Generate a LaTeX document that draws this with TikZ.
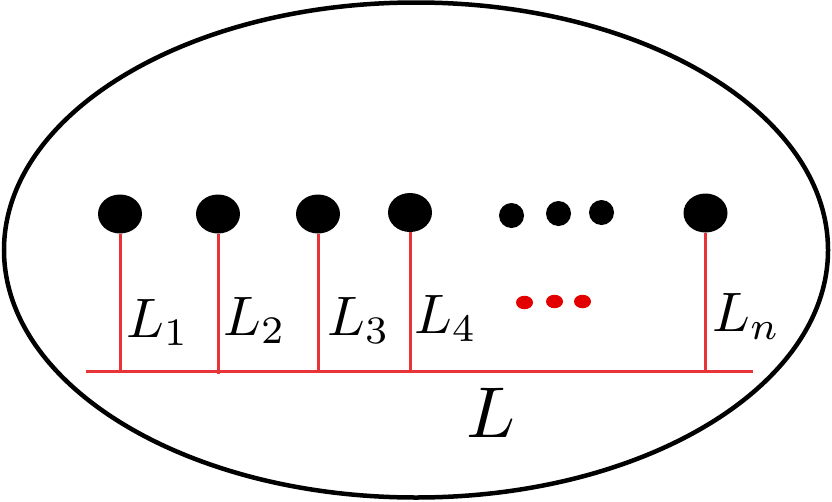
\documentclass[tikz,border=0pt]{standalone}
\usepackage{graphicx}
\usetikzlibrary{shapes.geometric}
\definecolor{linered}{RGB}{232,52,56}
\definecolor{dotred}{RGB}{226,0,0}
\tikzset{
  bigdot/.style={ellipse,fill=black,minimum width=44pt,minimum height=39pt,inner sep=0pt},
  smalldot/.style={circle,fill=black,minimum size=25pt,inner sep=0pt},
  reddot/.style={ellipse,fill=dotred,minimum width=17pt,minimum height=13.5pt,inner sep=0pt},
  redline/.style={draw=linered,line width=3pt},
  lab/.style={anchor=base west,inner sep=0pt},
}
\newcommand{\biglab}[1]{\scalebox{5.56}{$#1$}}
\begin{document}
\begin{tikzpicture}[x=1pt,y=-1pt]
\useasboundingbox (0,0) rectangle (832,501);
\node[ellipse,draw=black,line width=4.5pt,minimum width=824pt,minimum height=495pt,inner sep=0pt] (outer) at (416,250) {};
% big dots
\node[bigdot] (d1) at (120,214) {};
\node[bigdot] (d2) at (218,214) {};
\node[bigdot] (d3) at (318,214) {};
\node[bigdot] (d4) at (410,212.5) {};
\node[bigdot] (dn) at (705.5,213) {};
% small dots
\node[smalldot] (s1) at (511.5,215.5) {};
\node[smalldot] (s2) at (558.5,213.5) {};
\node[smalldot] (s3) at (601.5,212.5) {};
% red dots
\node[reddot] (r1) at (524.5,302.5) {};
\node[reddot] (r2) at (554.5,301.5) {};
\node[reddot] (r3) at (582.5,301.5) {};
% base line
\coordinate (hl) at (86,371.5);
\coordinate (hr) at (753,371.5);
\coordinate (b1) at (120,371.5);
\coordinate (b2) at (218,373.5);
\coordinate (b3) at (318,371.5);
\coordinate (b4) at (410,371.5);
\coordinate (bn) at (705.5,371.5);
\draw[redline] (hl) -- (hr);
\draw[redline] (d1.south) -- (b1);
\draw[redline] (d2.south) -- (b2);
\draw[redline] (d3.south) -- (b3);
\draw[redline] (d4.south) -- (b4);
\draw[redline] (dn.south) -- (bn);
% labels
\node[lab] (l1) at (126,337) {\biglab{L_1}};
\node[lab] (l2) at (223,335) {\biglab{L_2}};
\node[lab] (l3) at (327,335) {\biglab{L_3}};
\node[lab] (l4) at (414,333) {\biglab{L_4}};
\node[lab] (ln) at (712,331) {\biglab{L_n}};
\node[lab] (L) at (466,437) {\scalebox{7.2}{$L$}};
\end{tikzpicture}
\end{document}
